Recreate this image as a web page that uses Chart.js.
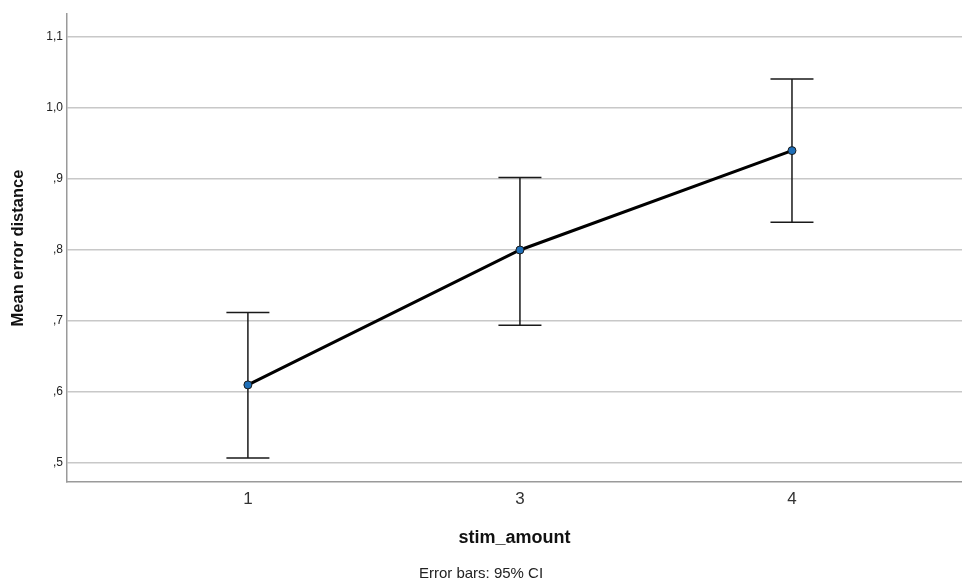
<!DOCTYPE html>
<html>
<head>
<meta charset="utf-8">
<script src="https://cdn.jsdelivr.net/npm/chart.js@4"></script>
<style>
  html, body { margin: 0; padding: 0; background: #fff; }
  #wrap { width: 962px; height: 584px; }
</style>
</head>
<body>
<div id="wrap"><canvas id="myChart" width="962" height="584"></canvas></div>
<script>
// data
const categories = ["1", "3", "4"];
const means = [0.61, 0.80, 0.94];
const ciLow = [0.507, 0.694, 0.839];
const ciHigh = [0.712, 0.902, 1.041];
const yTicks = [0.5, 0.6, 0.7, 0.8, 0.9, 1.0, 1.1];

function fmtTick(v) {
  // SPSS style: ",5" and "1,0"
  let s = v.toFixed(1).replace(".", ",");
  if (s.startsWith("0")) s = s.slice(1);
  return s;
}

// draws the 95% CI bars using the chart's own scales
const errorBars = {
  id: "errorBars",
  beforeDatasetsDraw(chart) {
    const ctx = chart.ctx;
    const xs = chart.scales.x;
    const ys = chart.scales.y;
    ctx.save();
    ctx.strokeStyle = "#1a1a1a";
    ctx.lineWidth = 1.5;
    for (let i = 0; i < categories.length; i++) {
      const px = xs.getPixelForValue(i);
      const top = ys.getPixelForValue(ciHigh[i]);
      const bot = ys.getPixelForValue(ciLow[i]);
      ctx.beginPath();
      ctx.moveTo(px, top);
      ctx.lineTo(px, bot);
      ctx.moveTo(px - 21.5, top);
      ctx.lineTo(px + 21.5, top);
      ctx.moveTo(px - 21.5, bot);
      ctx.lineTo(px + 21.5, bot);
      ctx.stroke();
    }
    ctx.restore();
  },
};

let myChart = document.getElementById("myChart");

new Chart(myChart, {
  type: "line",
  data: {
    datasets: [
      {
        label: "Mean error distance",
        data: means.map((m, i) => ({ x: i, y: m })),
        borderColor: "#000",
        borderWidth: 3,
        pointRadius: 4,
        pointBackgroundColor: "#1f6fb8",
        pointBorderColor: "#1a1a1a",
        pointBorderWidth: 1,
        tension: 0,
      },
    ],
  },
  options: {
    responsive: false,
    animation: false,
    layout: {
      autoPadding: false,
      padding: { top: 14, right: 0, bottom: 0, left: 0 },
    },
    plugins: {
      legend: { display: false },
      tooltip: { enabled: false },
      subtitle: {
        display: true,
        position: "bottom",
        text: "Error bars: 95% CI",
        color: "#222",
        font: { family: "Liberation Sans, Arial", size: 15 },
        padding: { top: 0, bottom: 1 },
      },
    },
    scales: {
      x: {
        type: "linear",
        min: -0.665,
        max: 2.625,
        afterBuildTicks(scale) {
          scale.ticks = categories.map((c, i) => ({ value: i }));
        },
        afterFit(scale) {
          scale.height = 83;
          scale.paddingLeft = 0;
          scale.paddingRight = 0;
        },
        ticks: {
          padding: 7,
          color: "#333",
          font: { family: "Liberation Sans, Arial", size: 17 },
          callback: (v) => categories[v],
        },
        grid: { display: false, drawTicks: false },
        border: { display: true, color: "#9a9a9a", width: 1.5 },
        title: {
          display: true,
          text: "stim_amount",
          color: "#111",
          font: { family: "Liberation Sans, Arial", size: 18, weight: "bold" },
          padding: { top: 16.2, bottom: 16.2 },
        },
      },
      y: {
        min: 0.4732,
        max: 1.1324,
        afterBuildTicks(scale) {
          scale.ticks = yTicks.map((v) => ({ value: v }));
        },
        afterFit(scale) {
          scale.width = 67;
        },
        ticks: {
          padding: 4,
          color: "#222",
          font: { family: "Liberation Sans, Arial", size: 12 },
          callback: (v) => fmtTick(v),
        },
        grid: { color: "#c8c8c8", lineWidth: 1.5, drawTicks: false },
        border: { display: true, color: "#9a9a9a", width: 1.5 },
        title: {
          display: true,
          text: "Mean error distance",
          color: "#111",
          font: { family: "Liberation Sans, Arial", size: 16.5, weight: "bold" },
          padding: { top: 8.2, bottom: 8.2 },
        },
      },
    },
  },
  plugins: [errorBars],
});
</script>
</body>
</html>
